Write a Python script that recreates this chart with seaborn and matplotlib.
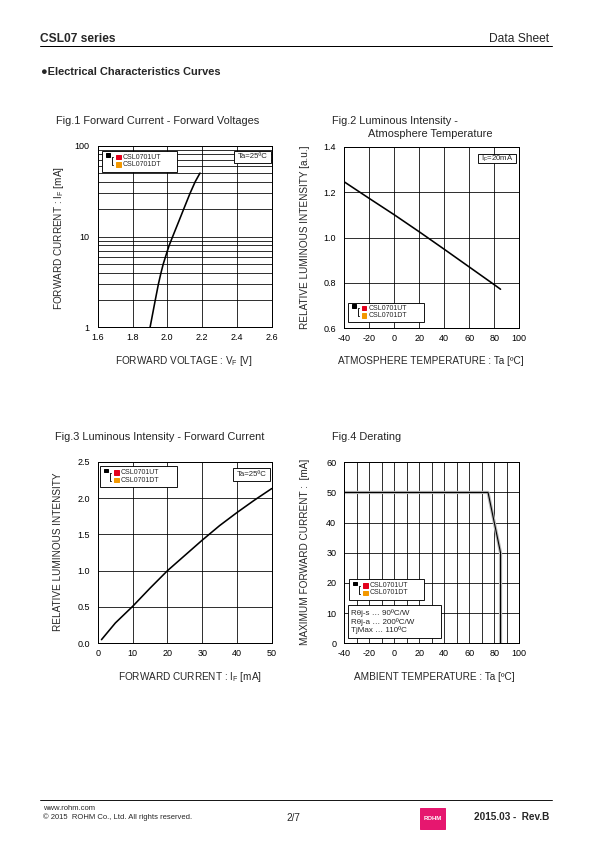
import numpy as np
import pandas as pd
import matplotlib
matplotlib.use("Agg")
import matplotlib.pyplot as plt
import matplotlib.patches as mpatches
from matplotlib.ticker import MultipleLocator, FixedLocator, NullFormatter, FormatStrFormatter
import seaborn as sns

# --- data ---
vf_volt = [1.901, 1.931, 1.949, 1.964, 1.977, 1.990, 2.001, 2.011, 2.031, 2.068, 2.094, 2.131, 2.160, 2.188]
vf_current = [1, 2, 3, 4, 5, 6, 7, 8, 10, 15, 20, 30, 40, 50]

ta_temp = [-40, -20, 0, 20, 40, 60, 80, 85]
iv_rel_ta = [1.245, 1.172, 1.100, 1.025, 0.948, 0.870, 0.792, 0.772]

if_current = [1, 5, 10, 15, 20, 25, 30, 35, 40, 45, 50]
iv_rel_if = [0.05, 0.28, 0.51, 0.76, 1.0, 1.21, 1.42, 1.62, 1.80, 1.97, 2.13]

derate_temp = [-40, 75, 85, 85]
derate_current = [50, 50, 30, 0]

parts = ["CSL0701UT", "CSL0701DT"]

W, H = 595, 842
sns.set_theme(style="white")
plt.rcParams["font.family"] = ["Liberation Sans", "DejaVu Sans"]
plt.rcParams["mathtext.fontset"] = "custom"
plt.rcParams["mathtext.rm"] = "Liberation Sans"
plt.rcParams["mathtext.it"] = "Liberation Sans"
plt.rcParams["axes.unicode_minus"] = False

fig = plt.figure(figsize=(W / 72, H / 72), dpi=72)
fig.patch.set_facecolor("white")

TITLE = 11
LABEL = 10
TICK = 9


def fx(x):
    return x / W


def fy(y):
    return 1 - y / H


def axes_px(x0, y0, x1, y1):
    return fig.add_axes([fx(x0), fy(y1), fx(x1) - fx(x0), (y1 - y0) / H])


def box_px(x0, y0, x1, y1):
    fig.patches.append(mpatches.Rectangle((fx(x0), fy(y1)), fx(x1) - fx(x0), (y1 - y0) / H,
                                          transform=fig.transFigure, facecolor="white",
                                          edgecolor="black", linewidth=0.9, zorder=5))


def part_legend(x0, y0, x1, y1):
    box_px(x0, y0, x1, y1)
    ym = (y0 + y1) / 2
    fig.patches.append(mpatches.Rectangle((fx(x0 + 4), fy(ym - 4.5)), 3.5 / W, 3.5 / H,
                                          transform=fig.transFigure, color="black", zorder=6))
    fig.lines.append(plt.Line2D([fx(x0 + 11), fx(x0 + 10), fx(x0 + 10), fx(x0 + 11)],
                                [fy(ym - 4), fy(ym - 4), fy(ym + 4), fy(ym + 4)],
                                transform=fig.transFigure, color="black", lw=0.9, zorder=6))
    for i, (c, name) in enumerate(zip(["#e3001b", "#f39800"], parts)):
        yy = ym - 4 + i * 7.5
        fig.patches.append(mpatches.Rectangle((fx(x0 + 14), fy(yy + 2)), 4.5 / W, 4.5 / H,
                                              transform=fig.transFigure, color=c, zorder=6))
        fig.text(fx(x0 + 21), fy(yy), name, fontsize=7, va="center", ha="left", zorder=7)


def small_box(x0, y0, x1, y1, txt):
    box_px(x0, y0, x1, y1)
    fig.text(fx((x0 + x1) / 2), fy((y0 + y1) / 2), txt, fontsize=7.8,
             ha="center", va="center", zorder=7)


def style_axes(ax):
    for s in ax.spines.values():
        s.set_visible(True)
        s.set_color("black")
        s.set_linewidth(1.0)
    ax.tick_params(length=0, labelsize=TICK, colors="black", which="both")
    ax.tick_params(axis="x", pad=6)
    ax.tick_params(axis="y", pad=8)
    ax.grid(True, which="both", color="black", linewidth=0.8)
    ax.set_axisbelow(True)
    ax.set_xlabel("")
    ax.set_ylabel("")


# --- header ---
fig.text(fx(40), fy(39), "CSL07 series", fontsize=12, fontweight="bold", va="center")
fig.text(fx(549), fy(39), "Data Sheet", fontsize=12, ha="right", va="center")
fig.lines.append(plt.Line2D([fx(40), fx(552)], [fy(45.5), fy(45.5)],
                            transform=fig.transFigure, color="black", lw=1.0))
fig.text(fx(41), fy(72), "\u25cfElectrical Characteristics Curves", fontsize=11,
         fontweight="bold", va="center")

# --- Fig.1 ---
ax1 = axes_px(97.7, 145.7, 271.7, 327.3)
sns.lineplot(x=vf_volt, y=vf_current, ax=ax1, color="black", lw=1.6)
ax1.set_yscale("log")
ax1.set_xlim(1.6, 2.6)
ax1.set_ylim(1, 100)
ax1.xaxis.set_major_locator(MultipleLocator(0.2))
ax1.xaxis.set_major_formatter(FormatStrFormatter("%.1f"))
ax1.set_yticks([1, 10, 100])
ax1.set_yticklabels(["1", "10", "100"])
ax1.yaxis.set_minor_locator(FixedLocator([v * d for d in (1, 10) for v in range(2, 10)]))
ax1.yaxis.set_minor_formatter(NullFormatter())
style_axes(ax1)
fig.text(fx(56), fy(121), "Fig.1 Forward Current - Forward Voltages", fontsize=TITLE, va="center")
fig.text(fx(184), fy(361), "FORWARD VOLTAGE : V$_F$ [V]", fontsize=LABEL, ha="center", va="center")
fig.text(fx(59), fy(238), "FORWARD CURRENT : I$_F$ [mA]", fontsize=LABEL, rotation=90,
         ha="center", va="center")
part_legend(102, 151, 177, 171.7)
small_box(234, 151, 270.5, 163, "Ta=25ºC")

# --- Fig.2 ---
ax2 = axes_px(344.3, 146.7, 519.3, 328.3)
sns.lineplot(x=ta_temp, y=iv_rel_ta, ax=ax2, color="black", lw=1.6)
ax2.set_xlim(-40, 100)
ax2.set_ylim(0.6, 1.4)
ax2.xaxis.set_major_locator(MultipleLocator(20))
ax2.yaxis.set_major_locator(MultipleLocator(0.2))
ax2.yaxis.set_major_formatter(FormatStrFormatter("%.1f"))
style_axes(ax2)
fig.text(fx(332), fy(121), "Fig.2 Luminous Intensity -", fontsize=TITLE, va="center")
fig.text(fx(368), fy(134), "Atmosphere Temperature", fontsize=TITLE, va="center")
fig.text(fx(431), fy(361), "ATMOSPHERE TEMPERATURE : Ta [ºC]", fontsize=LABEL, ha="center", va="center")
fig.text(fx(305), fy(237), "RELATIVE LUMINOUS INTENSITY [a.u.]", fontsize=LABEL, rotation=90,
         ha="center", va="center")
small_box(478, 154, 516, 163.3, "I$_F$=20mA")
part_legend(348, 302.7, 424, 322)

# --- Fig.3 ---
ax3 = axes_px(98, 461.7, 271.7, 643.3)
sns.lineplot(x=if_current, y=iv_rel_if, ax=ax3, color="black", lw=1.6)
ax3.set_xlim(0, 50)
ax3.set_ylim(0, 2.5)
ax3.xaxis.set_major_locator(MultipleLocator(10))
ax3.yaxis.set_major_locator(MultipleLocator(0.5))
ax3.yaxis.set_major_formatter(FormatStrFormatter("%.1f"))
style_axes(ax3)
fig.text(fx(55), fy(437), "Fig.3 Luminous Intensity - Forward Current", fontsize=TITLE, va="center")
fig.text(fx(190), fy(677), "FORWARD CURRENT : I$_F$ [mA]", fontsize=LABEL, ha="center", va="center")
fig.text(fx(58), fy(552), "RELATIVE LUMINOUS INTENSITY", fontsize=LABEL, rotation=90,
         ha="center", va="center")
part_legend(100, 466, 176.7, 487.3)
small_box(232.7, 468, 270, 480.7, "Ta=25ºC")

# --- Fig.4 ---
ax4 = axes_px(344.3, 462.3, 519.3, 643.3)
df4 = pd.DataFrame({"temp": derate_temp, "current": derate_current})
sns.lineplot(data=df4, x="temp", y="current", ax=ax4, color="#b8b8b8", lw=3.2,
             estimator=None, sort=False)
sns.lineplot(data=df4, x="temp", y="current", ax=ax4, color="black", lw=1.1,
             estimator=None, sort=False)
ax4.set_xlim(-40, 100)
ax4.set_ylim(0, 60)
ax4.xaxis.set_major_locator(MultipleLocator(20))
ax4.xaxis.set_minor_locator(MultipleLocator(10))
ax4.yaxis.set_major_locator(MultipleLocator(10))
style_axes(ax4)
fig.text(fx(332), fy(437), "Fig.4 Derating", fontsize=TITLE, va="center")
fig.text(fx(434), fy(677), "AMBIENT TEMPERATURE : Ta [ºC]", fontsize=LABEL, ha="center", va="center")
fig.text(fx(305), fy(552), "MAXIMUM FORWARD CURRENT :  [mA]", fontsize=LABEL, rotation=90,
         ha="center", va="center")
part_legend(349, 579, 424.3, 600)
box_px(348.3, 605, 440.7, 638.3)
for i, line in enumerate(["R\u03b8j-s \u2026 90ºC/W", "R\u03b8j-a \u2026 200ºC/W", "TjMax \u2026 110ºC"]):
    fig.text(fx(351), fy(613.5 + i * 8.5), line, fontsize=8, va="center", zorder=7)

# --- footer ---
fig.lines.append(plt.Line2D([fx(40), fx(552)], [fy(800), fy(800)],
                            transform=fig.transFigure, color="black", lw=0.9))
fig.text(fx(43), fy(808), "www.rohm.com", fontsize=7.6, va="center")
fig.text(fx(43), fy(817), "\u00a9 2015  ROHM Co., Ltd. All rights reserved.", fontsize=7.6, va="center")
fig.text(fx(293), fy(818), "2/7", fontsize=10, ha="center", va="center")
fig.patches.append(mpatches.Rectangle((fx(420), fy(829)), 25 / W, 21 / H,
                                      transform=fig.transFigure, color="#e6176f", zorder=5))
fig.text(fx(432.5), fy(818.5), "ROHM", fontsize=6, fontweight="bold", color="white",
         ha="center", va="center", zorder=6)
fig.text(fx(549), fy(817), "2015.03 -  Rev.B", fontsize=10, fontweight="bold", ha="right", va="center")

fig.savefig("out.png", dpi=72)
